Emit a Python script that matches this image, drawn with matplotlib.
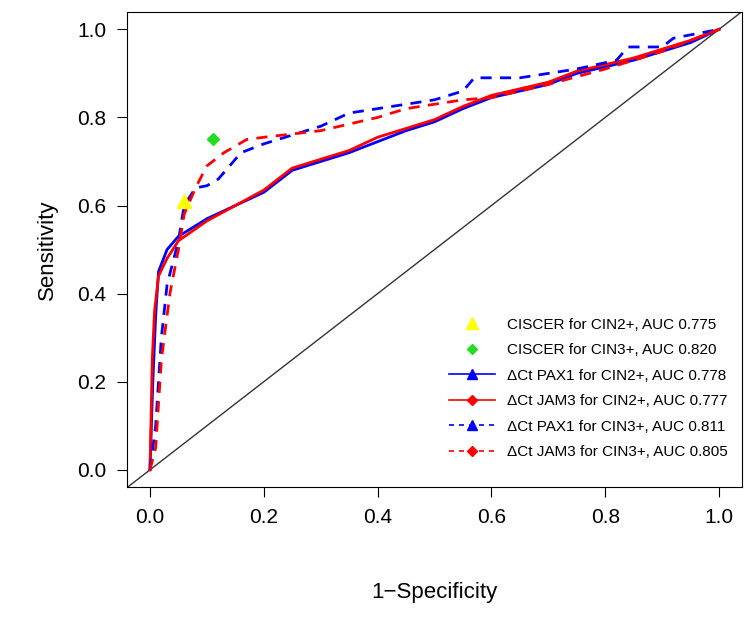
import matplotlib
matplotlib.use("Agg")
import matplotlib.pyplot as plt
from matplotlib.lines import Line2D

plt.rcParams['font.family'] = ['Liberation Sans', 'DejaVu Sans']

pax2_x = [0,0.005,0.01,0.015,0.03,0.05,0.1,0.15,0.2,0.25,0.3,0.35,0.4,0.45,0.5,0.55,0.6,0.65,0.7,0.75,0.8,0.85,0.9,0.95,1]
pax2_y = [0,0.2,0.35,0.45,0.5,0.53,0.57,0.6,0.63,0.68,0.7,0.72,0.745,0.77,0.79,0.82,0.845,0.86,0.875,0.9,0.915,0.93,0.95,0.97,1]
jam2_x = [0,0.004,0.008,0.015,0.03,0.05,0.1,0.15,0.2,0.25,0.3,0.35,0.4,0.45,0.5,0.55,0.6,0.65,0.7,0.75,0.8,0.85,0.9,0.95,1]
jam2_y = [0,0.25,0.36,0.44,0.48,0.52,0.565,0.6,0.635,0.685,0.705,0.725,0.755,0.775,0.795,0.825,0.85,0.865,0.88,0.905,0.92,0.935,0.955,0.975,1]
pax3_x = [0,0.01,0.02,0.03,0.05,0.06,0.08,0.1,0.12,0.14,0.16,0.2,0.25,0.3,0.35,0.45,0.5,0.55,0.57,0.65,0.75,0.82,0.84,0.9,0.92,1]
pax3_y = [0,0.1,0.3,0.42,0.52,0.6,0.64,0.645,0.66,0.69,0.72,0.74,0.76,0.78,0.81,0.83,0.84,0.86,0.89,0.89,0.91,0.93,0.96,0.96,0.98,1]
jam3_x = [0,0.01,0.02,0.035,0.05,0.06,0.08,0.1,0.13,0.17,0.2,0.3,0.4,0.45,0.55,0.6,0.7,0.8,0.9,1]
jam3_y = [0,0.05,0.25,0.4,0.5,0.58,0.64,0.69,0.72,0.75,0.755,0.77,0.8,0.82,0.84,0.845,0.875,0.91,0.95,1]
ciscer2 = (0.06, 0.61)
ciscer3 = (0.11, 0.75)
labels = ["CISCER for CIN2+, AUC 0.775", "CISCER for CIN3+, AUC 0.820",
          "ΔCt PAX1 for CIN2+, AUC 0.778", "ΔCt JAM3 for CIN2+, AUC 0.777",
          "ΔCt PAX1 for CIN3+, AUC 0.811", "ΔCt JAM3 for CIN3+, AUC 0.805"]

fig = plt.figure(figsize=(7.44, 6.18), dpi=100)
ax = fig.add_axes([0.171, 0.212, 0.826, 0.769])
ax.axline((0, 0), slope=1, color="#333333", lw=1)
ax.plot(pax2_x, pax2_y, color="blue", lw=2)
ax.plot(jam2_x, jam2_y, color="red", lw=2)
ax.plot(pax3_x, pax3_y, color="blue", lw=2, ls=(0, (4, 3)))
ax.plot(jam3_x, jam3_y, color="red", lw=2, ls=(0, (4, 3)))
ax.plot(*ciscer2, marker="^", color="yellow", ms=10, ls="none")
ax.plot(*ciscer3, marker="D", color="#22dd22", ms=6, ls="none")
ax.set_xlim(-0.04, 1.04)
ax.set_ylim(-0.039, 1.04)
ax.set_xticks([0, 0.2, 0.4, 0.6, 0.8, 1.0])
ax.set_yticks([0, 0.2, 0.4, 0.6, 0.8, 1.0])
ax.tick_params(labelsize=15, length=7, pad=8)
ax.set_xlabel("1−Specificity", fontsize=16, labelpad=40)
ax.set_ylabel("Sensitivity", fontsize=16, labelpad=14)
handles = [
    Line2D([], [], marker="^", color="yellow", ls="none", ms=8),
    Line2D([], [], marker="D", color="#22dd22", ls="none", ms=5),
    Line2D([], [], marker="^", color="blue", lw=1.2, ms=7),
    Line2D([], [], marker="D", color="red", lw=1.2, ms=5),
    Line2D([], [], marker="^", color="blue", lw=1.2, ms=7, ls=(0, (3, 3))),
    Line2D([], [], marker="D", color="red", lw=1.2, ms=5, ls=(0, (3, 3))),
]
ax.legend(handles, labels, loc="lower right", frameon=False, fontsize=11,
          bbox_to_anchor=(1.0, 0.03), handlelength=3, labelspacing=0.75)
fig.savefig("out.png", dpi=100)
